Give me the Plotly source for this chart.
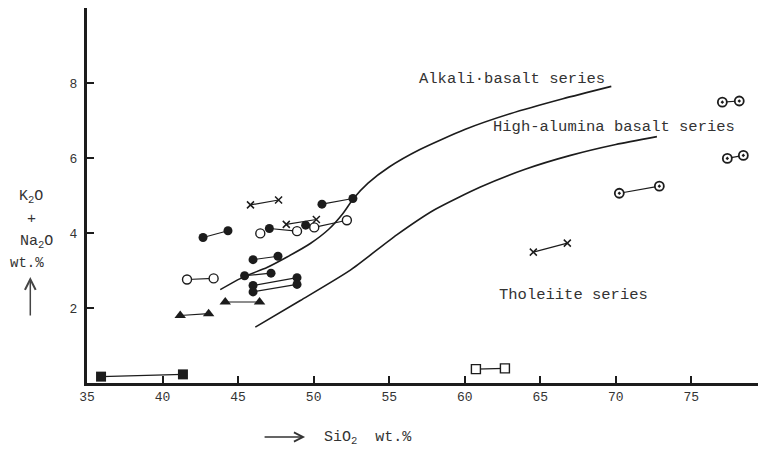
import plotly.graph_objects as go

# ---------------- data ----------------
# sample pairs (start point -> end point) and their marker kinds
pair_x0 = [45.82, 42.68, 50.55, 47.07, 48.19, 50.04, 45.99, 45.43, 45.99, 45.99,
           41.62, 44.15, 41.17, 35.93, 60.74, 64.54, 70.23, 77.05, 77.38]
pair_y0 = [4.75, 3.88, 4.77, 4.12, 4.23, 4.15, 3.29, 2.86, 2.60, 2.43,
           2.76, 2.16, 1.80, 0.17, 0.37, 3.49, 5.06, 7.49, 5.99]
pair_x1 = [47.68, 44.33, 52.60, 48.90, 50.18, 52.20, 47.64, 47.18, 48.90, 48.90,
           43.38, 46.42, 43.05, 41.35, 62.66, 66.79, 72.88, 78.17, 78.44]
pair_y1 = [4.88, 4.06, 4.92, 4.05, 4.36, 4.34, 3.38, 2.93, 2.81, 2.63,
           2.79, 2.16, 1.85, 0.23, 0.39, 3.73, 5.25, 7.52, 6.07]
pair_sym0 = ["x", "fc", "fc", "fc", "x", "oc", "fc", "fc", "fc", "fc",
             "oc", "tri", "tri", "fsq", "osq", "x", "dc", "dc", "dc"]
pair_sym1 = ["x", "fc", "fc", "oc", "x", "oc", "fc", "fc", "fc", "fc",
             "oc", "tri", "tri", "fsq", "osq", "x", "dc", "dc", "dc"]

# unpaired samples
single_x = [49.47, 46.47]
single_y = [4.21, 3.99]
single_sym = ["fc", "oc"]

# boundary curves
alkali_x = [43.82, 45.36, 46.91, 48.24, 49.78, 51.00, 51.90, 52.64, 53.60,
            55.00, 57.00, 60.00, 63.00, 66.50, 69.70]
alkali_y = [2.49, 2.83, 3.08, 3.36, 3.72, 4.10, 4.50, 4.92, 5.33,
            5.76, 6.22, 6.76, 7.18, 7.58, 7.91]
alumina_x = [46.14, 49.12, 52.43, 55.50, 58.00, 61.00, 64.00, 67.00, 70.00, 72.72]
alumina_y = [1.49, 2.20, 3.01, 3.95, 4.62, 5.22, 5.70, 6.07, 6.36, 6.57]

x_ticks = [35, 40, 45, 50, 55, 60, 65, 70, 75]
y_ticks = [2, 4, 6, 8]

series_labels = ["Alkali·basalt series", "High-alumina basalt series", "Tholeiite series"]
label_x = [63.1, 69.9, 67.2]
label_y = [8.11, 6.83, 2.35]

# ---------------- styles ----------------
INK = "#1c1c1c"
FONT = "Liberation Mono"
marker_styles = {
    "fc": dict(symbol="circle", size=9, color=INK, line=dict(width=0)),
    "oc": dict(symbol="circle", size=9, color="white", line=dict(width=1.4, color=INK)),
    "x": dict(symbol="x-thin", size=7, color=INK, line=dict(width=1.5, color=INK)),
    "tri": dict(symbol="triangle-up", size=10, color=INK, line=dict(width=0)),
    "fsq": dict(symbol="square", size=10, color=INK, line=dict(width=0)),
    "osq": dict(symbol="square", size=9, color="white", line=dict(width=1.4, color=INK)),
    "dc": dict(symbol="circle-dot", size=9, color="white", line=dict(width=1.8, color=INK)),
}

fig = go.Figure()

for cx, cy in [(alkali_x, alkali_y), (alumina_x, alumina_y)]:
    fig.add_trace(go.Scatter(x=cx, y=cy, mode="lines",
                             line=dict(color=INK, width=1.6, shape="spline", smoothing=0.6),
                             hoverinfo="skip", showlegend=False))

for i in range(len(pair_x0)):
    fig.add_trace(go.Scatter(x=[pair_x0[i], pair_x1[i]], y=[pair_y0[i], pair_y1[i]],
                             mode="lines", line=dict(color=INK, width=1.2),
                             hoverinfo="skip", showlegend=False))

all_x = pair_x0 + pair_x1 + single_x
all_y = pair_y0 + pair_y1 + single_y
all_s = pair_sym0 + pair_sym1 + single_sym
for key, st in marker_styles.items():
    xs = [x for x, s in zip(all_x, all_s) if s == key]
    ys = [y for y, s in zip(all_y, all_s) if s == key]
    fig.add_trace(go.Scatter(x=xs, y=ys, mode="markers", marker=st,
                             showlegend=False, cliponaxis=False))

for t, lx, ly in zip(series_labels, label_x, label_y):
    fig.add_annotation(x=lx, y=ly, text=t, showarrow=False,
                       font=dict(family=FONT, size=15.5, color="#333"))

# y-axis title pieces (left-anchored)
ytitle = [("K<sub>2</sub>O", -0.1043, 0.496, 15), ("+", -0.0924, 0.435, 15),
          ("Na<sub>2</sub>O", -0.1028, 0.376, 15),
          ("wt.%", -0.1177, 0.294, 14)]
for t, px, py, fs in ytitle:
    fig.add_annotation(x=px, y=py, xref="paper", yref="paper", text=t, showarrow=False,
                       xanchor="left", font=dict(family=FONT, size=fs, color="#333"))
fig.add_annotation(x=-0.0845, y=0.283, xref="paper", yref="paper", text="",
                   showarrow=True, ax=0, ay=40, arrowhead=5, arrowsize=1.4,
                   arrowwidth=1.5, arrowcolor="#444")

# x-axis title
fig.add_annotation(x=0.350, y=-0.176, xref="paper", yref="paper",
                   text="SiO<sub>2</sub>  wt.%", showarrow=False, xanchor="left",
                   font=dict(family=FONT, size=15, color="#333"))
fig.add_annotation(x=0.325, y=-0.144, xref="paper", yref="paper", text="",
                   showarrow=True, ax=-42, ay=0, arrowhead=5, arrowsize=1.2,
                   arrowwidth=1.5, arrowcolor="#333")

fig.update_layout(
    width=758, height=451,
    margin=dict(l=87, r=0, t=8, b=68),
    paper_bgcolor="white", plot_bgcolor="white",
    font=dict(family=FONT, color="#333"),
    xaxis=dict(range=[35, 79.41], tickvals=x_ticks, ticktext=[str(v) for v in x_ticks],
               ticks="inside", ticklen=7, tickwidth=1.5, tickcolor=INK,
               showline=True, linewidth=2.5, linecolor=INK,
               showgrid=False, zeroline=False,
               tickfont=dict(family=FONT, size=13, color="#333")),
    yaxis=dict(range=[0, 10], tickvals=y_ticks, ticktext=[str(v) for v in y_ticks],
               ticks="inside", ticklen=7, tickwidth=1.5, tickcolor=INK,
               showline=True, linewidth=3, linecolor=INK,
               showgrid=False, zeroline=False, ticklabelstandoff=4,
               tickfont=dict(family=FONT, size=13, color="#333")),
)

fig.write_html("out.html")
